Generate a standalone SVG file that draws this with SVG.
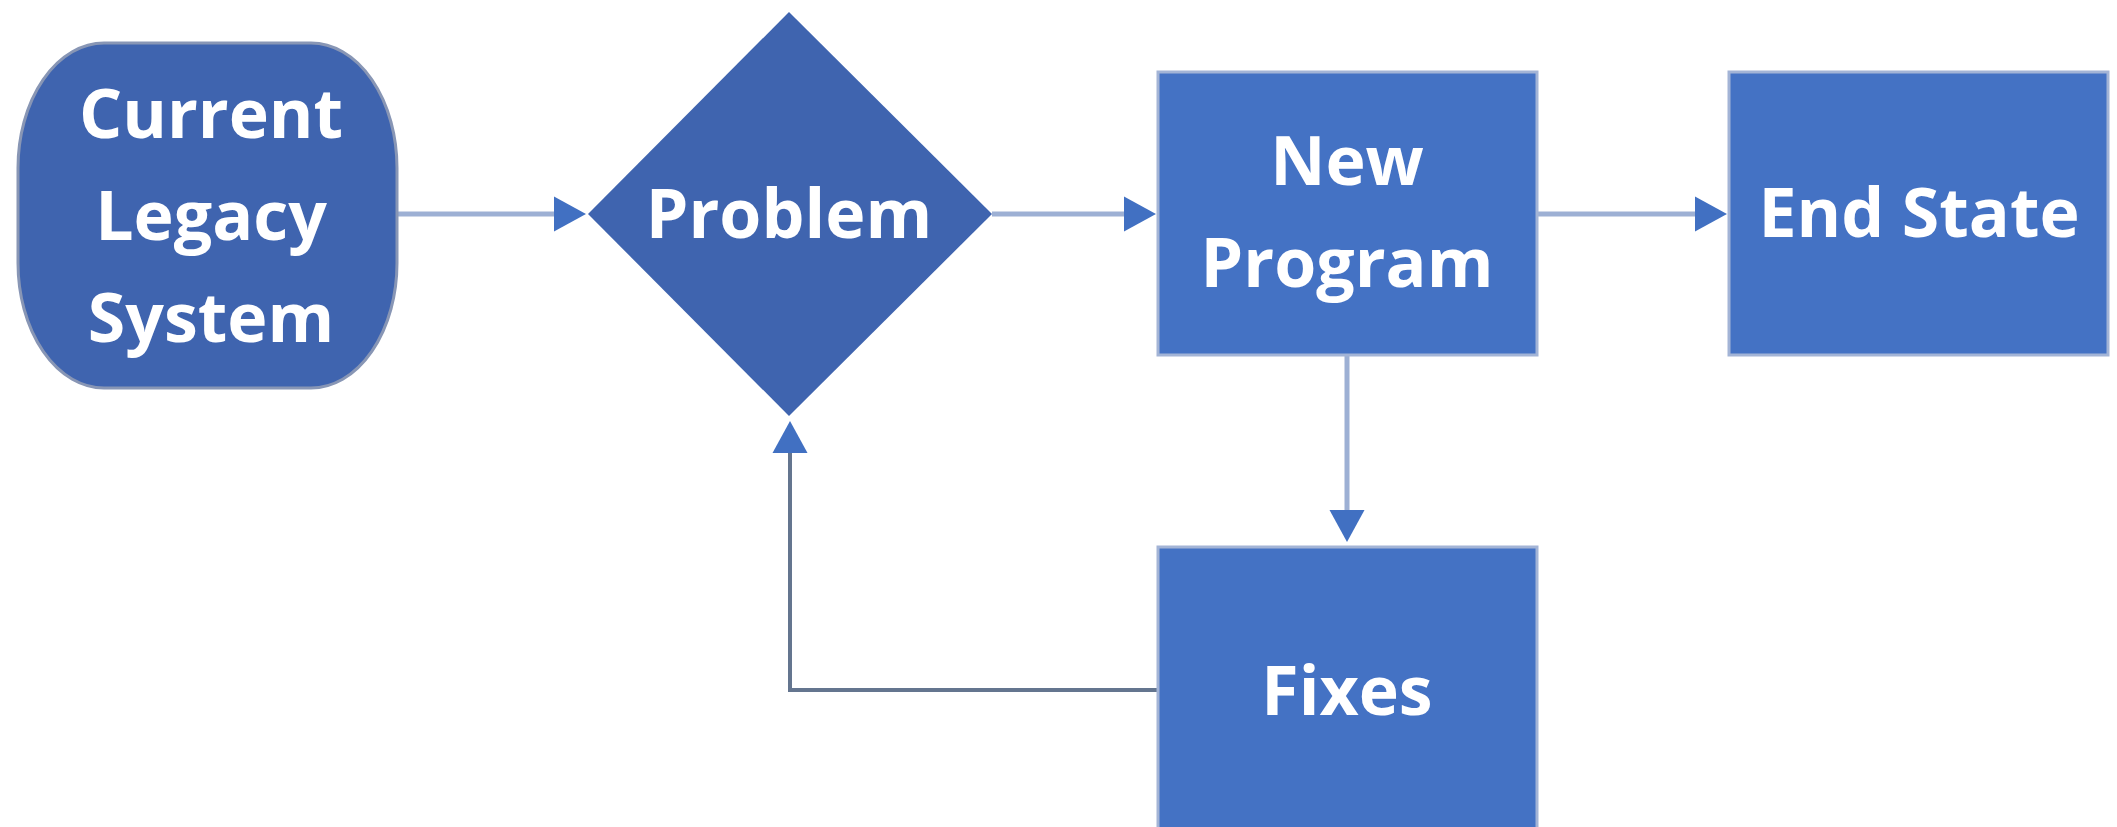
<svg xmlns="http://www.w3.org/2000/svg" width="2117" height="827" viewBox="0 0 2117 827">
  <style>
    .dark { fill: #3f64af; }
    .box { fill: #4472c4; stroke: #a3b4d6; stroke-width: 3; }
    .label { fill: #ffffff; font-family: "Open Sans", "Liberation Sans", sans-serif; font-weight: 700; font-size: 68px; text-anchor: middle; }
    .flow { fill: none; stroke: #9db0d4; stroke-width: 5; }
    .loop { fill: none; stroke: #64758f; stroke-width: 4; }
  </style>
  <defs>
    <marker id="arrow" markerUnits="userSpaceOnUse" markerWidth="34" markerHeight="36" refX="0" refY="17.5" orient="auto" overflow="visible">
      <path d="M0,0 L32,17.5 L0,35 z" fill="#4170c2"/>
    </marker>
  </defs>

  <rect width="2117" height="827" fill="#ffffff"/>

  <g id="connectors">
    <line class="flow" x1="397" y1="214" x2="554" y2="214" marker-end="url(#arrow)"/>
    <line class="flow" x1="992" y1="214" x2="1124" y2="214" marker-end="url(#arrow)"/>
    <line class="flow" x1="1537" y1="214" x2="1695" y2="214" marker-end="url(#arrow)"/>
    <line class="flow" x1="1347" y1="355" x2="1347" y2="510" marker-end="url(#arrow)"/>
    <polyline class="loop" points="1158,690 790,690 790,453" marker-end="url(#arrow)"/>
  </g>

  <g id="current-legacy-system">
    <rect class="dark" stroke="#8896b5" stroke-width="3" x="18" y="43" width="379" height="345" rx="86" ry="125"/>
    <text class="label" x="211" y="138">Current</text>
    <text class="label" x="211" y="240">Legacy</text>
    <text class="label" x="211" y="342">System</text>
  </g>

  <g id="problem">
    <polygon class="dark" points="789,12 992,214 789,416 588,214"/>
    <text class="label" x="789" y="238">Problem</text>
  </g>

  <g id="new-program">
    <rect class="box" x="1158" y="72" width="379" height="283"/>
    <text class="label" x="1347" y="185">New</text>
    <text class="label" x="1347" y="287">Program</text>
  </g>

  <g id="end-state">
    <rect class="box" x="1729" y="72" width="379" height="283"/>
    <text class="label" x="1919" y="237">End State</text>
  </g>

  <g id="fixes">
    <rect class="box" x="1158" y="547" width="379" height="283"/>
    <text class="label" x="1347" y="715">Fixes</text>
  </g>
</svg>
